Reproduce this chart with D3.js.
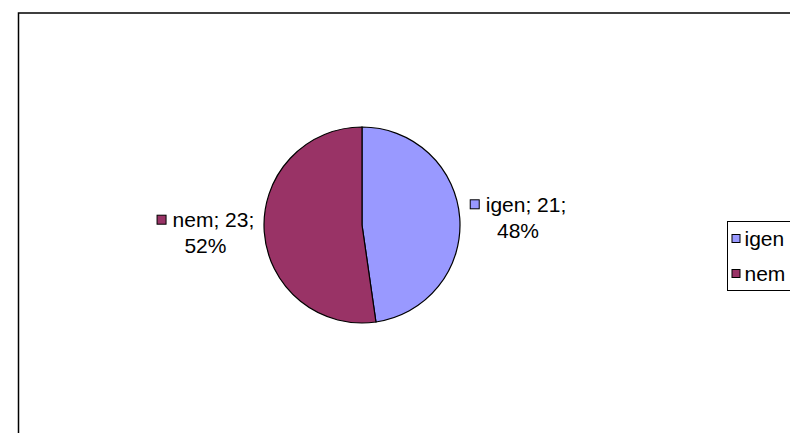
<!DOCTYPE html>
<html>
<head>
<meta charset="utf-8">
<script src="https://cdn.jsdelivr.net/npm/d3@7"></script>
<style>
html,body{margin:0;padding:0;background:#fff;}
svg{display:block;}
text{font-family:"Liberation Sans",Arial,sans-serif;fill:#000;}
</style>
</head>
<body>
<svg id="chart" width="790" height="433"></svg>
<script>
const categories = ["igen", "nem"];
const values = [21, 23];
const colors = ["#9999FF", "#993366"];

const W = 790, H = 433;
const svg = d3.select("#chart");
const fontSize = 21;

// chart border (extends beyond the visible window)
svg.append("rect")
  .attr("x", 18.5).attr("y", 13)
  .attr("width", 900).attr("height", 600)
  .attr("fill", "#fff").attr("stroke", "#000").attr("stroke-width", 1.5);

const cx = 362, cy = 225, r = 98;
const total = d3.sum(values);
const data = categories.map((c, i) => ({cat: c, value: values[i], color: colors[i]}));

const pie = d3.pie().sort(null).value(d => d.value);
const arcs = pie(data);
const arc = d3.arc().innerRadius(0).outerRadius(r);

const g = svg.append("g").attr("transform", `translate(${cx},${cy})`);
g.selectAll("path").data(arcs).join("path")
  .attr("d", arc)
  .attr("fill", d => d.data.color)
  .attr("stroke", "#000").attr("stroke-width", 1.2);

// data labels
const labelR = r + 10;
const sw = 10, gap = 6, lineH = 26;
arcs.forEach(a => {
  const mid = (a.startAngle + a.endAngle) / 2;
  const ax = labelR * Math.sin(mid), ay = -labelR * Math.cos(mid);
  const right = Math.sin(mid) >= 0;
  const lg = g.append("g");
  const t1 = lg.append("text").attr("font-size", fontSize).text(`${a.data.cat}; ${a.data.value};`);
  const pct = Math.round(a.data.value / total * 100) + "%";
  const t2 = lg.append("text").attr("font-size", fontSize).attr("text-anchor", "middle").text(pct);
  const w1 = t1.node().getComputedTextLength();
  const bw = sw + gap + w1;
  const x0 = right ? ax : ax - bw;
  const y1 = ay - lineH / 2, y2 = ay + lineH / 2;
  lg.append("rect").attr("x", x0 + 0.5).attr("y", y1 - sw / 2 + 0.5).attr("width", sw - 1).attr("height", sw - 1)
    .attr("fill", a.data.color).attr("stroke", "#000").attr("stroke-width", 1);
  t1.attr("x", x0 + sw + gap).attr("y", y1).attr("dy", "0.35em");
  t2.attr("x", x0 + bw / 2).attr("y", y2).attr("dy", "0.35em");
});

// legend
const lx = 727.5, ly = 221.5, lh = 69;
const legend = svg.append("g");
legend.append("rect").attr("x", lx).attr("y", ly).attr("width", 200).attr("height", lh)
  .attr("fill", "#fff").attr("stroke", "#000").attr("stroke-width", 1);
const ly0 = d3.scalePoint().domain(categories).range([ly + 17, ly + lh - 17]);
categories.forEach((c, i) => {
  const y = ly0(c);
  legend.append("rect").attr("x", lx + 4.5).attr("y", y - 4).attr("width", 8).attr("height", 8)
    .attr("fill", colors[i]).attr("stroke", "#000").attr("stroke-width", 1);
  legend.append("text").attr("x", lx + 17).attr("y", y).attr("dy", "0.35em")
    .attr("font-size", fontSize).text(c);
});
</script>
</body>
</html>
